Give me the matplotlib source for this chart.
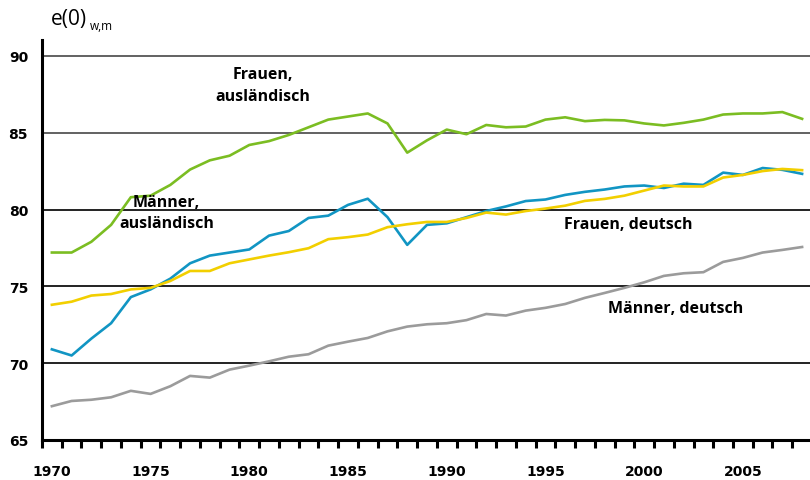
import numpy as np
import matplotlib
matplotlib.use("Agg")
import matplotlib.pyplot as plt

years = list(range(1970, 2009))

# Frauen, ausländisch
frauen_ausl = [77.2, 77.2, 77.9, 79.0, 80.8, 80.9, 81.6, 82.6, 83.2, 83.5,
               84.2, 84.45, 84.85, 85.35, 85.85, 86.05, 86.25, 85.6, 83.7, 84.5,
               85.2, 84.9, 85.5, 85.35, 85.4, 85.85, 86.0, 85.75, 85.83, 85.8,
               85.6, 85.47, 85.64, 85.85, 86.18, 86.25, 86.25, 86.34, 85.9]
# Männer, ausländisch
maenner_ausl = [70.9, 70.5, 71.6, 72.6, 74.3, 74.8, 75.5, 76.5, 77.0, 77.2,
                77.4, 78.3, 78.6, 79.45, 79.6, 80.3, 80.7, 79.5, 77.7, 79.0,
                79.1, 79.5, 79.9, 80.2, 80.55, 80.65, 80.95, 81.15, 81.3, 81.5,
                81.56, 81.4, 81.68, 81.6, 82.4, 82.25, 82.7, 82.58, 82.32]
# Frauen, deutsch
frauen_dt = [73.8, 74.0, 74.4, 74.5, 74.8, 74.9, 75.35, 76.0, 76.0, 76.5,
             76.75, 77.0, 77.22, 77.48, 78.07, 78.2, 78.37, 78.85, 79.04, 79.19,
             79.19, 79.45, 79.8, 79.67, 79.9, 80.06, 80.25, 80.56, 80.69, 80.9,
             81.23, 81.56, 81.5, 81.5, 82.08, 82.25, 82.5, 82.64, 82.56]
# Männer, deutsch
maenner_dt = [67.2, 67.54, 67.62, 67.78, 68.2, 68.0, 68.5, 69.17, 69.06, 69.58,
              69.84, 70.12, 70.42, 70.58, 71.14, 71.4, 71.64, 72.07, 72.38, 72.53,
              72.6, 72.8, 73.2, 73.1, 73.42, 73.6, 73.85, 74.25, 74.57, 74.9,
              75.26, 75.68, 75.85, 75.92, 76.59, 76.85, 77.2, 77.37, 77.56]

label_years = [1970, 1975, 1980, 1985, 1990, 1995, 2000, 2005]
y_ticks = [65, 70, 75, 80, 85, 90]

fnt = "Open Sans"
tick_fnt = "DejaVu Sans"

fig = plt.figure(figsize=(8.1, 4.81), dpi=100)
ax = fig.add_axes([42 / 810, 40 / 481, (810 - 42) / 810, (441 - 40.7) / 481])

for yv in y_ticks[1:]:
    c = "#555555" if yv >= 85 else "#111111"
    ax.axhline(yv, color=c, lw=1.3, zorder=1)

lw = 1.9
ax.plot(years, maenner_dt, color="#9b9b9b", lw=lw, zorder=3)
ax.plot(years, frauen_dt, color="#f2cf00", lw=lw, zorder=4)
ax.plot(years, maenner_ausl, color="#1195c3", lw=lw, zorder=3)
ax.plot(years, frauen_ausl, color="#7bbd22", lw=lw, zorder=3)

ax.set_xlim(1969.5, 2008.4)
ax.set_ylim(65, 91.05)

for s in ["top", "right"]:
    ax.spines[s].set_visible(False)
ax.spines["left"].set_linewidth(2.2)
ax.spines["bottom"].set_linewidth(2.2)

ax.set_xticks(label_years)
ax.set_xticklabels([str(y) for y in label_years], fontfamily=tick_fnt,
                   fontweight="bold", fontsize=10)
ax.tick_params(axis="x", which="major", length=0, pad=17)
ax.set_xticks(np.arange(1969.5, 2008.5, 1.0), minor=True)
ax.tick_params(axis="x", which="minor", length=6, width=2.2, direction="out",
               color="black")

ax.set_yticks(y_ticks)
ax.set_yticklabels([str(v) for v in y_ticks], fontfamily=tick_fnt,
                   fontweight="bold", fontsize=10)
ax.tick_params(axis="y", length=0, pad=10)

fig.text(51 / 810, 1 - 19 / 481, "e(0)", fontfamily=fnt, fontsize=15,
         va="center", ha="left")
fig.text(90 / 810, 1 - 26 / 481, "w,m", fontfamily=fnt, fontsize=8.5,
         va="center", ha="left")

kw = dict(fontfamily=fnt, fontweight="bold", fontsize=11.5, ha="center",
          va="center", linespacing=1.45, zorder=6)
ax.text(1980.7, 88.1, "Frauen,\nausländisch", **kw)
ax.text(1975.8, 79.8, "Männer,\nausländisch", **kw)
ax.text(1999.2, 79.05, "Frauen, deutsch", **kw)
ax.text(2001.6, 73.6, "Männer, deutsch", **kw)

fig.savefig("out.png", dpi=100)
